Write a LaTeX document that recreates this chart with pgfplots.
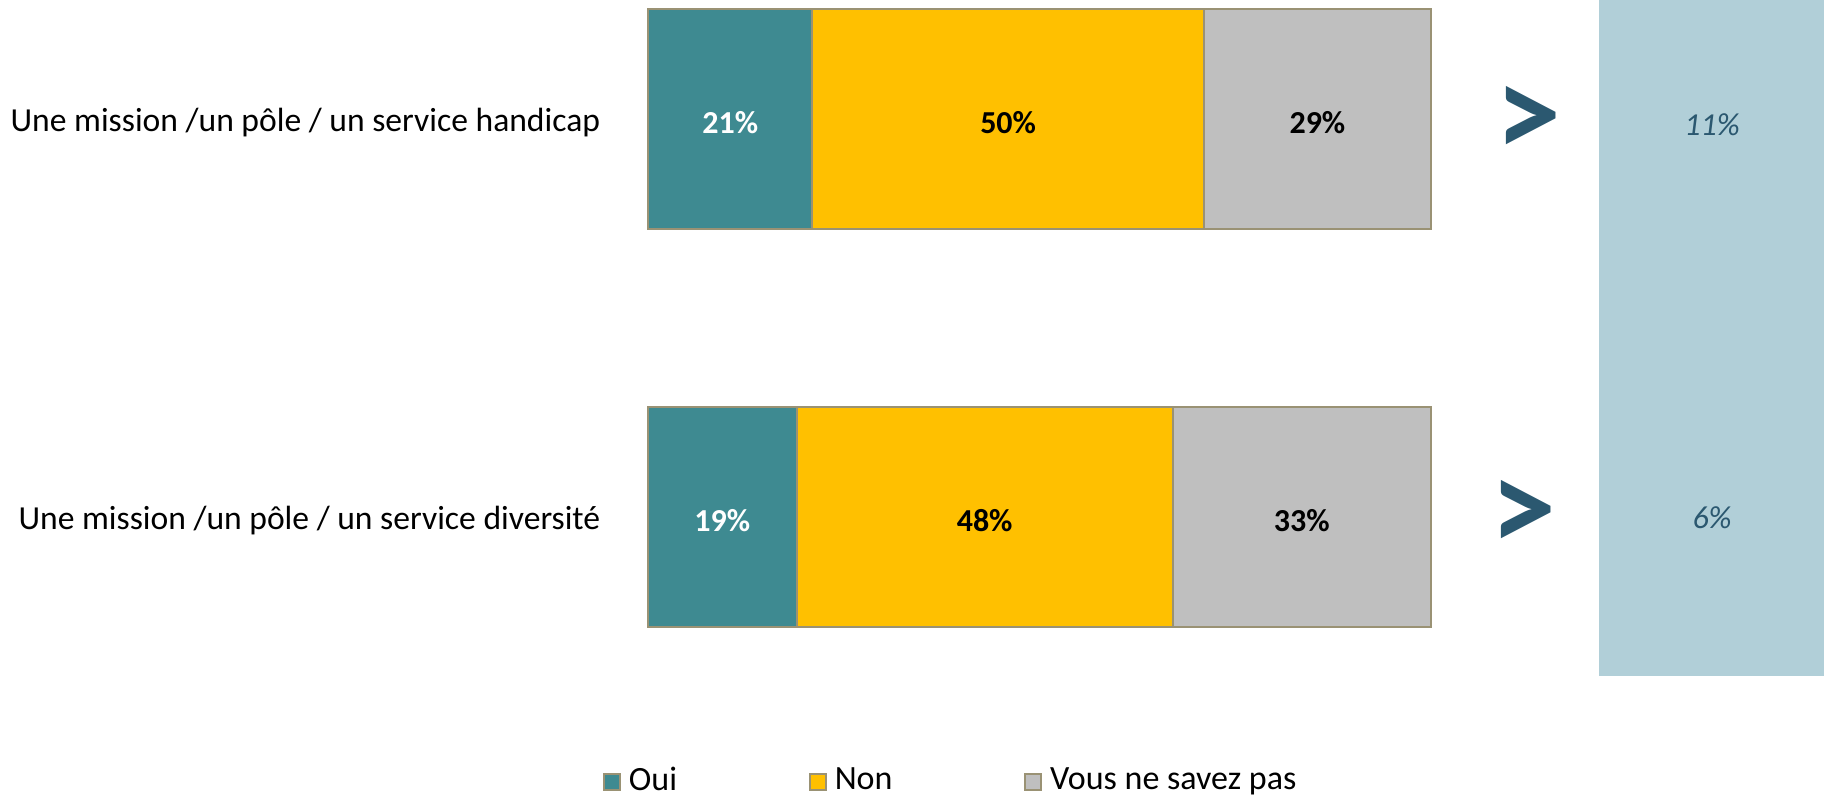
\documentclass[border=0pt]{standalone}
\usepackage{pgfplots}
\pgfplotsset{compat=1.18}
\usepackage{fontspec}
\setmainfont{Carlito}
\pgfkeys{/pgf/number format/assume math mode=true}

\definecolor{oui}{HTML}{3E8A91}
\definecolor{non}{HTML}{FFC000}
\definecolor{nsp}{HTML}{BFBFBF}
\definecolor{edge}{HTML}{9A9274}
\definecolor{panel}{HTML}{B1CFD8}
\definecolor{dblue}{HTML}{2B5870}

\pgfplotsset{
  overlay/.style={scale only axis, width=294pt, height=169pt,
    xmin=0, xmax=150.2, ymin=-0.398, ymax=1.299, hide axis, clip=false},
  vallabel/.style={only marks, mark=none, point meta=explicit,
    nodes near coords={\pgfmathprintnumber{\pgfplotspointmeta}\%},
    nodes near coords style={anchor=center, yshift=-0.9pt, font=\fontsize{8}{10}\selectfont\bfseries}},
}

\begin{document}
\begin{tikzpicture}
% main stacked bars
\begin{axis}[
  scale only axis, width=294pt, height=169pt,
  xmin=0, xmax=150.2, ymin=-0.398, ymax=1.299,
  xbar stacked, bar width=0.552,
  axis line style={draw=none}, major tick length=0,
  xtick=\empty, ytick={0,1},
  yticklabels={Une mission /un pôle / un service diversité, Une mission /un pôle / un service handicap},
  yticklabel style={font=\fontsize{8.4}{10}\selectfont, anchor=east, inner sep=0pt, xshift=-11.75pt, yshift=-0.9pt},
  clip=false,
  legend columns=3,
  legend image code/.code={\draw[#1, draw=edge, line width=0.4pt] (0pt,-2pt) rectangle (4pt,2pt);},
  legend style={at={(axis cs:-5.8,-0.664)}, anchor=west, draw=none, fill=none, inner sep=0pt,
    font=\fontsize{8.5}{10}\selectfont,
    nodes={inner sep=0pt},
    /tikz/every odd column/.append style={column sep=2pt},
    /tikz/every even column/.append style={column sep=33pt}},
]
\addplot[fill=oui, draw=edge, line width=0.5pt] coordinates {(19,0) (21,1)};
\addplot[fill=non, draw=edge, line width=0.5pt] coordinates {(48,0) (50,1)};
\addplot[fill=nsp, draw=edge, line width=0.5pt] coordinates {(33,0) (29,1)};
\legend{Oui, Non, Vous ne savez pas}
\end{axis}
% segment values, centred in each segment
\begin{axis}[overlay]
\addplot[vallabel, nodes near coords style={text=white}] coordinates {(9.5,0) [19] (10.5,1) [21]};
\addplot[vallabel, nodes near coords style={text=black}] coordinates {(43,0) [48] (46,1) [50]};
\addplot[vallabel, nodes near coords style={text=black}] coordinates {(83.5,0) [33] (85.5,1) [29]};
\end{axis}
% comparison panel
\begin{axis}[overlay]
\fill[panel] (axis cs:121.5,-0.398) rectangle (axis cs:150.2,1.299);
\addplot[only marks, mark=none, point meta=explicit,
  nodes near coords={\textit{\pgfmathprintnumber{\pgfplotspointmeta}\%}},
  nodes near coords style={anchor=center, text=dblue, font=\fontsize{8}{10}\selectfont}]
  coordinates {(135.9,0.985) [11] (135.9,0.0) [6]};
\node[text=dblue, font=\fontsize{33}{33}\selectfont\bfseries, inner sep=0pt] at (axis cs:112.5,0.993) {>};
\node[text=dblue, font=\fontsize{33}{33}\selectfont\bfseries, inner sep=0pt] at (axis cs:111.8,0.003) {>};
\end{axis}
\pgfresetboundingbox
\path (-162pt,169pt) rectangle (294pt,-30.75pt);
\end{tikzpicture}
\end{document}
